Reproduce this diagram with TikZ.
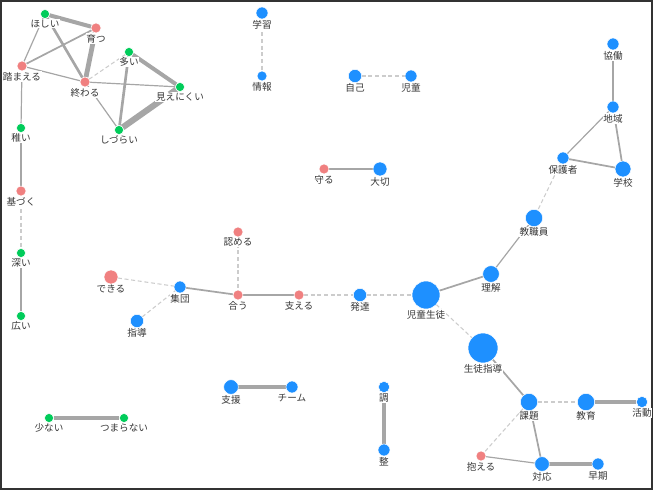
\documentclass[tikz,border=0pt]{standalone}
\usepackage{fontspec}
\usepackage{xcolor}
\usepackage{tikz}
\usetikzlibrary{backgrounds}
\newfontfamily\jp{Noto Sans CJK JP}

\definecolor{nblue}{RGB}{30,144,255}
\definecolor{nred}{RGB}{240,128,128}
\definecolor{ngreen}{RGB}{0,204,90}
\definecolor{egray}{RGB}{166,166,166}
\definecolor{edash}{RGB}{204,204,204}
\definecolor{lgray}{RGB}{55,55,55}

\tikzset{
  lbl/.style={inner sep=0.6pt, fill=white, font=\jp\fontsize{7.2}{8}\selectfont, text=lgray},
  word/.style={circle, draw=white, line width=0.4pt, inner sep=0pt, outer sep=0pt,
    minimum size=#1, label distance=-0.6pt},
  bn/.style={word=#1, fill=nblue},
  rn/.style={word=#1, fill=nred},
  gn/.style={word=#1, fill=ngreen},
  e1/.style={draw=egray, line width=0.9pt},
  e2/.style={draw=egray, line width=1.3pt},
  e3/.style={draw=egray, line width=2pt},
  e4/.style={draw=egray, line width=3pt},
  e5/.style={draw=egray, line width=3.6pt},
  e6/.style={draw=egray, line width=4.6pt},
  ed/.style={draw=edash, line width=0.8pt, dash pattern=on 3pt off 2pt},
}

\begin{document}
\begin{tikzpicture}[x=0.75pt,y=0.75pt,yscale=-1,xscale=1]
\useasboundingbox (0,0) rectangle (655,491);
%frame
\draw [draw=black!80, line width=1.5pt] (1,1) rectangle (652,489);

%green words
\node [gn=6.8pt, label={[lbl]below:ほしい}] (hoshii) at (45,14) {};
\node [gn=6.8pt, label={[lbl]below:多い}] (ooi) at (129,52) {};
\node [gn=6.8pt, label={[lbl]below:見えにくい}] (mienikui) at (180,87) {};
\node [gn=6.8pt, label={[lbl]below:しづらい}] (shizurai) at (119,130) {};
\node [gn=6.8pt, label={[lbl]below:稚い}] (osanai) at (21,128) {};
\node [gn=6.8pt, label={[lbl]below:深い}] (fukai) at (21,253) {};
\node [gn=6.8pt, label={[lbl]below:広い}] (hiroi) at (21,316) {};
\node [gn=6.8pt, label={[lbl]below:少ない}] (sukunai) at (49,418) {};
\node [gn=6.8pt, label={[lbl]below:つまらない}] (tsumaranai) at (124,418) {};

%red words
\node [rn=7.5pt, label={[lbl]below:育つ}] (sodatsu) at (96,28) {};
\node [rn=7.5pt, label={[lbl]below:踏まえる}] (fumaeru) at (22,66) {};
\node [rn=7.5pt, label={[lbl]below:終わる}] (owaru) at (85,82) {};
\node [rn=7.5pt, label={[lbl]below:基づく}] (motozuku) at (21,191) {};
\node [rn=10.5pt, label={[lbl]below:できる}] (dekiru) at (111,277) {};
\node [rn=7.5pt, label={[lbl]below:認める}] (mitomeru) at (238,232) {};
\node [rn=7.5pt, label={[lbl]below:合う}] (au) at (238,295) {};
\node [rn=7.5pt, label={[lbl]below:支える}] (sasaeru) at (299,295) {};
\node [rn=7.5pt, label={[lbl]below:守る}] (mamoru) at (324,169) {};
\node [rn=7.5pt, label={[lbl]below:抱える}] (kakaeru) at (481,456) {};

%blue words
\node [bn=9pt, label={[lbl]below:学習}] (gakushu) at (262,13) {};
\node [bn=7.5pt, label={[lbl]below:情報}] (joho) at (262,76) {};
\node [bn=10pt, label={[lbl]below:自己}] (jiko) at (355,76) {};
\node [bn=9pt, label={[lbl]below:児童}] (jido) at (411,76) {};
\node [bn=10.5pt, label={[lbl]below:大切}] (taisetsu) at (380,169) {};
\node [bn=9pt, label={[lbl]below:協働}] (kyodo) at (613,44) {};
\node [bn=9pt, label={[lbl]below:地域}] (chiiki) at (613,107) {};
\node [bn=9pt, label={[lbl]below:保護者}] (hogosha) at (563,158) {};
\node [bn=12pt, label={[lbl]below:学校}] (gakko) at (623,169) {};
\node [bn=13pt, label={[lbl]below:教職員}] (kyoshokuin) at (534,218) {};
\node [bn=12.5pt, label={[lbl]below:理解}] (rikai) at (491,274) {};
\node [bn=21pt, label={[lbl]below:児童生徒}] (jidoseito) at (426,295) {};
\node [bn=22.5pt, label={[lbl]below:生徒指導}] (seitoshido) at (483,348) {};
\node [bn=10pt, label={[lbl]below:発達}] (hattatsu) at (360,295) {};
\node [bn=9pt, label={[lbl]below:集団}] (shudan) at (180,287) {};
\node [bn=10pt, label={[lbl]below:指導}] (shido) at (137,321) {};
\node [bn=11pt, label={[lbl]below:支援}] (shien) at (231,387) {};
\node [bn=9pt, label={[lbl]below:チーム}] (team) at (292,387) {};
\node [bn=8.5pt, label={[lbl]below:調}] (cho) at (384,387) {};
\node [bn=9pt, label={[lbl]below:整}] (sei) at (384,450) {};
\node [bn=13pt, label={[lbl]below:課題}] (kadai) at (529,402) {};
\node [bn=13pt, label={[lbl]below:教育}] (kyoiku) at (586,402) {};
\node [bn=8.5pt, label={[lbl]below:活動}] (katsudo) at (642,402) {};
\node [bn=11pt, label={[lbl]below:対応}] (taio) at (542,464) {};
\node [bn=9pt, label={[lbl]below:早期}] (soki) at (598,464) {};

%links
\begin{scope}[on background layer]
\draw [e4] (hoshii) -- (sodatsu);
\draw [e1] (hoshii) -- (fumaeru);
\draw [e3] (hoshii) -- (owaru);
\draw [e2] (sodatsu) -- (fumaeru);
\draw [e5] (sodatsu) -- (owaru);
\draw [e1] (fumaeru) -- (owaru);
\draw [ed] (owaru) -- (ooi);
\draw [e1] (owaru) -- (mienikui);
\draw [e1] (owaru) -- (shizurai);
\draw [e4] (ooi) -- (mienikui);
\draw [e3] (ooi) -- (shizurai);
\draw [e6] (mienikui) -- (shizurai);
\draw [e1] (fumaeru) -- (osanai);
\draw [e1] (osanai) -- (motozuku);
\draw [ed] (motozuku) -- (fukai);
\draw [e1] (fukai) -- (hiroi);
\draw [e5] (sukunai) -- (tsumaranai);
\draw [ed] (gakushu) -- (joho);
\draw [ed] (jiko) -- (jido);
\draw [e1] (mamoru) -- (taisetsu);
\draw [e2] (kyodo) -- (chiiki);
\draw [e1] (chiiki) -- (hogosha);
\draw [e2] (chiiki) -- (gakko);
\draw [e2] (hogosha) -- (gakko);
\draw [ed] (hogosha) -- (kyoshokuin);
\draw [e1] (kyoshokuin) -- (rikai);
\draw [e2] (rikai) -- (jidoseito);
\draw [ed] (jidoseito) -- (seitoshido);
\draw [ed] (hattatsu) -- (jidoseito);
\draw [ed] (sasaeru) -- (hattatsu);
\draw [e3] (au) -- (sasaeru);
\draw [ed] (mitomeru) -- (au);
\draw [e2] (shudan) -- (au);
\draw [ed] (dekiru) -- (shudan);
\draw [ed] (shido) -- (shudan);
\draw [e4] (shien) -- (team);
\draw [e5] (cho) -- (sei);
\draw [e2] (seitoshido) -- (kadai);
\draw [ed] (kadai) -- (kyoiku);
\draw [e4] (kyoiku) -- (katsudo);
\draw [ed] (kadai) -- (kakaeru);
\draw [e2] (kadai) -- (taio);
\draw [e1] (kakaeru) -- (taio);
\draw [e4] (taio) -- (soki);
\end{scope}
\end{tikzpicture}
\end{document}
